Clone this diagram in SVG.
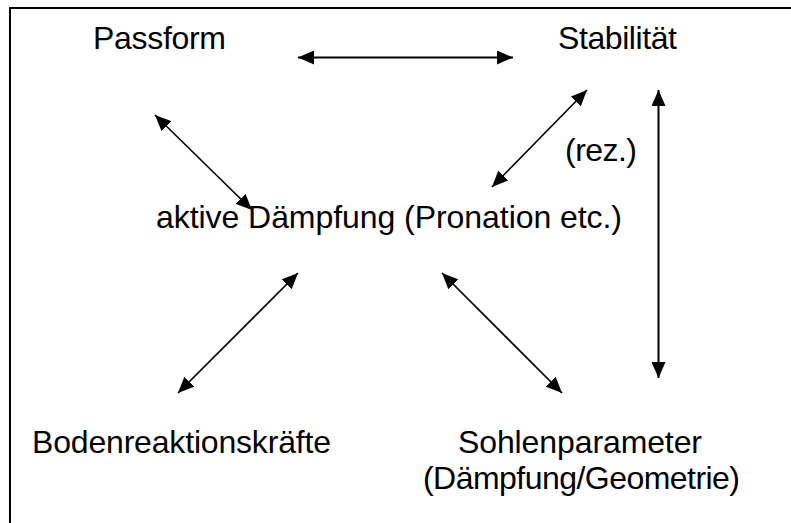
<svg xmlns="http://www.w3.org/2000/svg" width="791" height="523" viewBox="0 0 791 523">
<style>
  text { font-family: "Liberation Sans", Arial, sans-serif; font-size: 32px; fill: #000; }
  .c line { stroke: #000; stroke-width: 1.6; marker-start: url(#ah); marker-end: url(#ah); }
  .c line.s { stroke-width: 2; }
</style>
<defs>
  <marker id="ah" markerUnits="userSpaceOnUse" viewBox="0 0 16 14" refX="16" refY="7" markerWidth="16" markerHeight="14" orient="auto-start-reverse">
    <path d="M0,0 L16,7 L0,14 Z" fill="#000"/>
  </marker>
</defs>
<rect width="791" height="523" fill="#fff"/>
<path d="M10,523 V8 H791" fill="none" stroke="#000" stroke-width="2"/>
<g id="passform"><text x="93" y="49" textLength="133">Passform</text></g>
<g id="stabilitaet"><text x="558" y="49" textLength="119">Stabilität</text></g>
<g id="daempfung"><text x="156" y="228" textLength="466">aktive Dämpfung (Pronation etc.)</text></g>
<g id="rez"><text x="565" y="161" textLength="72">(rez.)</text></g>
<g id="boden"><text x="32" y="453" textLength="299">Bodenreaktionskräfte</text></g>
<g id="sohle"><text x="458" y="453" textLength="244">Sohlenparameter</text><text x="423" y="489" textLength="317">(Dämpfung/Geometrie)</text></g>
<g id="connectors" class="c">
  <line class="s" x1="298" y1="57.5" x2="513" y2="57.5"/>
  <line x1="155" y1="115" x2="252" y2="210"/>
  <line x1="587" y1="90" x2="492" y2="187"/>
  <line class="s" x1="658.5" y1="90" x2="658.5" y2="378"/>
  <line x1="298" y1="273" x2="178" y2="393"/>
  <line x1="442" y1="273" x2="562" y2="393"/>
</g>
</svg>
